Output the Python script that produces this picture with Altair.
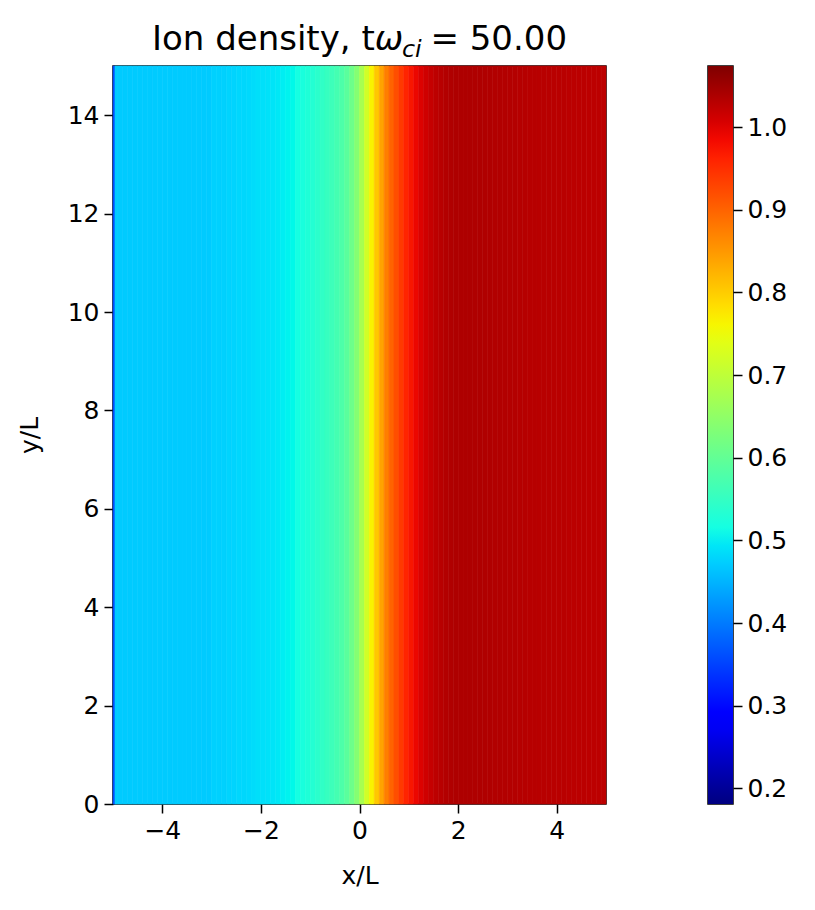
import altair as alt
import numpy as np
import pandas as pd

# ---- data: ion density profile across x (uniform along y) ----
x_lo = [-5.0, -4.96] + [round(-4.9 + 0.1 * i, 2) for i in range(99)]
x_hi = [-4.96, -4.9] + [round(-4.8 + 0.1 * i, 2) for i in range(99)]
density = (
    [0.36, 0.47]
    # -4.9 .. -3.0
    + [0.470] * 19
    # -3.0 .. -2.0
    + [0.475, 0.475, 0.475, 0.478, 0.478, 0.480, 0.480, 0.482, 0.485, 0.487]
    # -2.0 .. -1.0
    + [0.488, 0.490, 0.492, 0.495, 0.500, 0.505, 0.510, 0.516, 0.522, 0.528]
    # -1.0 .. 0.0
    + [0.533, 0.540, 0.547, 0.553, 0.560, 0.568, 0.578, 0.592, 0.612, 0.638]
    # 0.0 .. 1.0
    + [0.675, 0.720, 0.765, 0.805, 0.840, 0.875, 0.900, 0.920, 0.940, 0.960]
    # 1.0 .. 2.0
    + [0.975, 0.990, 1.002, 1.012, 1.020, 1.026, 1.030, 1.034, 1.036, 1.038]
    # 2.0 .. 3.0
    + [1.038, 1.038, 1.038, 1.037, 1.037, 1.036, 1.036, 1.035, 1.035, 1.034]
    # 3.0 .. 5.0
    + [1.033, 1.033, 1.032, 1.032, 1.031, 1.031, 1.030, 1.030, 1.030, 1.029,
       1.029, 1.029, 1.028, 1.028, 1.028, 1.028, 1.027, 1.027, 1.027, 1.027]
)
y_extent = [0.0, 15.0]
x_ticks = [-4, -2, 0, 2, 4]
y_ticks = [0, 2, 4, 6, 8, 10, 12, 14]
cbar_ticks = [0.2, 0.3, 0.4, 0.5, 0.6, 0.7, 0.8, 0.9, 1.0]
vmin, vmax = 0.181, 1.074
title_parts = ["Ion density, t", "ω", "ci", "= 50.00"]

df = pd.DataFrame({"x0": x_lo, "x1": x_hi, "n": density})
df["y0"] = y_extent[0]
df["y1"] = y_extent[1]

# ---- jet colormap (matplotlib segment data) ----
seg_r = ([0, 0.35, 0.66, 0.89, 1], [0, 0, 1, 1, 0.5])
seg_g = ([0, 0.125, 0.375, 0.64, 0.91, 1], [0, 0, 1, 1, 0, 0])
seg_b = ([0, 0.11, 0.34, 0.65, 1], [0.5, 1, 1, 0, 0])
ts = np.linspace(0, 1, 41)
stops_dom, stops_col = [], []
for t in ts:
    r = np.interp(t, *seg_r)
    g = np.interp(t, *seg_g)
    b = np.interp(t, *seg_b)
    stops_dom.append(float(vmin + t * (vmax - vmin)))
    stops_col.append("#%02x%02x%02x" % (int(round(r * 255)), int(round(g * 255)), int(round(b * 255))))
cscale = alt.Scale(domain=stops_dom, range=stops_col, clamp=True)

FONT = "DejaVu Sans"
TICK_FS = 25
TITLE_FS = 34
W, H = 493, 738
CB_W = 25

heat = alt.Chart(df).mark_rect(strokeWidth=0.6).encode(
    x=alt.X("x0:Q", scale=alt.Scale(domain=[-5, 5], nice=False, zero=False),
            axis=alt.Axis(title="x/L", values=x_ticks, titlePadding=20)),
    x2="x1:Q",
    y=alt.Y("y0:Q", scale=alt.Scale(domain=y_extent, nice=False, zero=False),
            axis=alt.Axis(title="y/L", values=y_ticks, titlePadding=25)),
    y2="y1:Q",
    color=alt.Color("n:Q", scale=cscale, legend=None),
    stroke=alt.Stroke("n:Q", scale=cscale, legend=None),
)

# title with subscript, laid out from approximate DejaVu Sans advance widths
em = {'I': .2949, 'o': .6118, 'n': .6338, ' ': .3179, 'd': .6348, 'e': .6152, 's': .5210,
      'i': .2778, 't': .3921, 'y': .5918, ',': .3179, 'ω': .74, 'c': .5498, '=': .8379,
      '5': .6362, '0': .6362, '.': .3179}
sizes = [TITLE_FS, TITLE_FS, TITLE_FS * 0.7, TITLE_FS]
gaps = [0, 2, em[' '] * TITLE_FS - 2, 0]
widths = [sum(em.get(ch, 0.6) for ch in p) * s for p, s in zip(title_parts, sizes)]
start = W / 2 - (sum(widths) + sum(gaps)) / 2
base_y = -16
layers = [heat]
xpos = start
for i, (p, s, w) in enumerate(zip(title_parts, sizes, widths)):
    layers.append(
        alt.Chart(pd.DataFrame({"t": [p]})).mark_text(
            align="left", baseline="alphabetic", font=FONT, fontSize=s,
            fontStyle="italic" if i in (1, 2) else "normal", color="black",
        ).encode(text="t:N", x=alt.value(xpos),
                 y=alt.value(base_y + (TITLE_FS * 0.2 if i == 2 else 0)))
    )
    xpos += w + gaps[i]

main = alt.layer(*layers).properties(width=W, height=H)

# ---- colorbar: one rect filled with the jet gradient, axis on the right ----
grad = alt.LinearGradient(
    gradient="linear",
    stops=[alt.GradientStop(color=c, offset=float(t)) for t, c in zip(ts, stops_col)],
    x1=0, x2=0, y1=1, y2=0,
)
cbar = alt.Chart(pd.DataFrame({"lo": [vmin], "hi": [vmax]})).mark_rect(color=grad).encode(
    y=alt.Y("lo:Q", scale=alt.Scale(domain=[vmin, vmax], nice=False, zero=False),
            axis=alt.Axis(title=None, orient="right", values=cbar_ticks, format=".1f",
                          labelOverlap=False)),
    y2="hi:Q",
    x=alt.value(0),
    x2=alt.value(CB_W),
).properties(width=CB_W, height=H)

chart = alt.hconcat(main, cbar, spacing=99).properties(
    padding={"left": 8, "top": 14, "right": 5, "bottom": 5}
).configure_view(stroke="black", strokeWidth=1.5).configure_axis(
    labelFont=FONT, labelFontSize=TICK_FS, labelColor="black",
    titleFont=FONT, titleFontSize=TICK_FS, titleFontWeight="normal", titleColor="black",
    tickColor="black", tickSize=9, tickWidth=1.5, grid=False, domain=False, labelPadding=5,
)

chart.save("out.html", embed_options={"renderer": "svg", "actions": False})
